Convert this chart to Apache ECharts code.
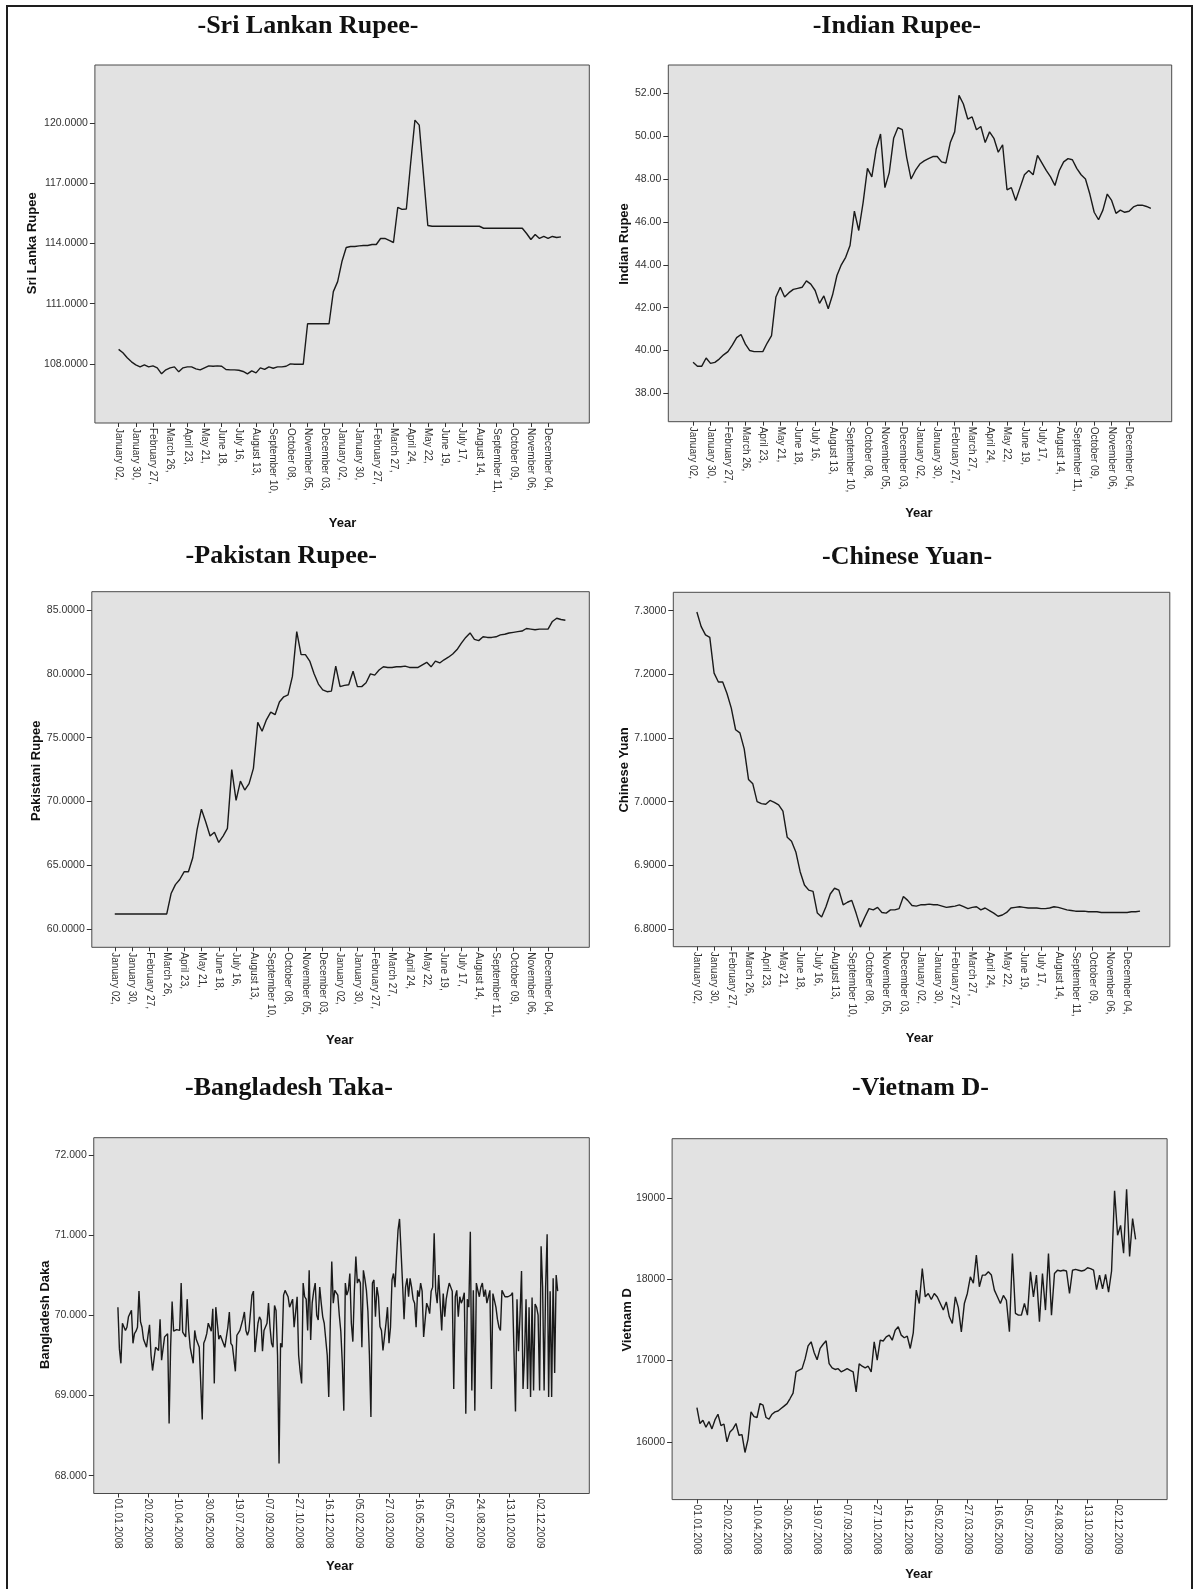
<!DOCTYPE html>
<html><head><meta charset="utf-8">
<script src="https://cdn.jsdelivr.net/npm/echarts@6/dist/echarts.min.js"></script>
<style>html,body{margin:0;padding:0;background:#fff}#c{width:1193px;height:1589px}</style>
</head><body><div id="c"></div>
<script>
// ---- tick labels ----
const tradeTickLabels = ['January 02,','January 30,','February 27,','March 26,','April 23,','May 21,','June 18,','July 16,','August 13,','September 10,','October 08,','November 05,','December 03,','January 02,','January 30,','February 27,','March 27,','April 24,','May 22,','June 19,','July 17,','August 14,','September 11,','October 09,','November 06,','December 04,'];
const dateTickLabels = ['01.01.2008','20.02.2008','10.04.2008','30.05.2008','19.07.2008','07.09.2008','27.10.2008','16.12.2008','05.02.2009','27.03.2009','16.05.2009','05.07.2009','24.08.2009','13.10.2009','02.12.2009'];

const sriLankaTicks = [108,111,114,117,120];
const indiaTicks = [38,40,42,44,46,48,50,52];
const pakistanTicks = [60,65,70,75,80,85];
const chinaTicks = [6.8,6.9,7.0,7.1,7.2,7.3];
const bangladeshTicks = [68,69,70,71,72];
const vietnamTicks = [16000,17000,18000,19000];

// ---- series values (weekly samples of trading days) ----
const sriLanka = [108.72,108.55,108.3,108.1,107.95,107.85,107.95,107.85,107.9,107.8,
107.5,107.7,107.8,107.85,107.6,107.8,107.85,107.85,107.75,107.7,
107.8,107.9,107.88,107.9,107.88,107.72,107.7,107.7,107.68,107.62,
107.5,107.65,107.55,107.8,107.72,107.85,107.78,107.85,107.85,107.88,
108.0,107.98,107.98,107.98,110.0,110.0,110.0,110.0,110.0,110.0,
111.6,112.1,113.1,113.8,113.85,113.85,113.88,113.9,113.9,113.95,
113.95,114.25,114.25,114.15,114.05,115.8,115.7,115.72,118.0,120.15,
119.9,117.4,114.9,114.86,114.86,114.86,114.86,114.86,114.86,114.86,
114.86,114.86,114.86,114.86,114.86,114.76,114.76,114.76,114.76,114.76,
114.76,114.76,114.76,114.76,114.76,114.5,114.2,114.45,114.25,114.35,
114.25,114.35,114.3,114.33];

const india = [39.45,39.27,39.27,39.65,39.4,39.45,39.6,39.8,39.95,40.25,
40.6,40.75,40.3,40.0,39.95,39.95,39.95,40.35,40.7,42.5,
42.95,42.5,42.7,42.85,42.9,42.95,43.25,43.1,42.8,42.2,
42.55,41.95,42.6,43.5,44.0,44.35,44.9,46.5,45.6,46.9,
48.5,48.1,49.4,50.1,47.6,48.3,49.9,50.4,50.3,49.0,
48.0,48.4,48.7,48.85,48.95,49.05,49.05,48.8,48.75,49.7,
50.2,51.9,51.5,50.8,50.9,50.3,50.45,49.7,50.2,49.9,
49.25,49.6,47.5,47.6,47.0,47.6,48.2,48.4,48.2,49.1,
48.75,48.4,48.1,47.7,48.4,48.8,48.95,48.9,48.5,48.2,
48.0,47.3,46.45,46.1,46.55,47.3,47.0,46.4,46.55,46.45,
46.5,46.7,46.78,46.78,46.72,46.63];

const pakistan = [61.2,61.2,61.2,61.2,61.2,61.2,61.2,61.2,61.2,61.2,
61.2,61.2,61.2,62.8,63.5,63.9,64.5,64.5,65.6,67.8,
69.4,68.4,67.3,67.6,66.8,67.3,67.9,72.5,70.1,71.6,
70.9,71.4,72.6,76.2,75.5,76.4,77.0,76.8,77.8,78.2,
78.35,79.8,83.3,81.5,81.5,81.0,80.0,79.2,78.75,78.6,
78.65,80.6,79.0,79.1,79.15,80.2,79.0,79.0,79.3,80.0,
79.9,80.3,80.55,80.5,80.5,80.55,80.55,80.6,80.5,80.5,
80.5,80.7,80.9,80.55,81.0,80.85,81.1,81.3,81.55,81.9,
82.4,82.85,83.2,82.7,82.6,82.9,82.85,82.85,82.9,83.05,
83.1,83.2,83.25,83.3,83.35,83.55,83.5,83.45,83.5,83.5,
83.5,84.1,84.35,84.25,84.2];

const china = [7.298,7.275,7.262,7.258,7.202,7.188,7.188,7.17,7.147,7.113,
7.108,7.083,7.035,7.028,7.0,6.997,6.996,7.002,6.999,6.995,
6.985,6.944,6.938,6.921,6.89,6.869,6.861,6.859,6.825,6.819,
6.835,6.855,6.864,6.861,6.838,6.842,6.845,6.825,6.803,6.818,
6.832,6.83,6.834,6.826,6.825,6.83,6.83,6.832,6.851,6.845,
6.837,6.836,6.838,6.838,6.839,6.838,6.838,6.836,6.834,6.835,
6.836,6.838,6.835,6.832,6.834,6.835,6.83,6.833,6.829,6.825,
6.82,6.822,6.826,6.833,6.834,6.835,6.834,6.833,6.833,6.833,
6.832,6.832,6.833,6.835,6.834,6.832,6.83,6.829,6.828,6.828,
6.828,6.827,6.827,6.827,6.826,6.826,6.826,6.826,6.826,6.826,
6.826,6.827,6.827,6.828];

// ---- Bangladesh: samples every 2.5 calendar days ----
const bangladesh = [
70.1,69.58,69.4,69.9,69.88,69.81,69.85,69.98,70.02,70.06,69.65,69.77,69.8,69.85,70.3,69.92,69.85,69.7,69.65,69.6,
69.75,69.88,69.5,69.31,69.3,69.6,69.6,69.56,69.95,69.44,69.42,69.73,69.72,69.77,68.65,69.6,70.17,69.8,69.8,69.82,
69.8,69.81,70.4,69.79,69.78,69.73,70.2,69.81,69.6,69.5,69.4,69.81,69.7,69.7,69.6,69.58,68.7,69.65,69.7,69.77,
69.9,69.85,69.8,70.08,69.15,70.1,70.1,69.7,69.75,69.7,69.7,69.6,69.6,69.85,70.04,69.65,69.62,69.62,69.3,69.75,
69.78,69.81,69.82,69.95,70.04,69.81,69.75,69.81,69.82,70.25,70.3,69.54,69.55,69.9,69.98,69.94,69.55,69.81,69.8,69.9,
70.15,69.85,69.65,69.6,70.12,70.06,69.5,68.15,69.65,69.6,70.25,70.31,70.31,70.23,70.1,70.15,70.2,69.85,69.85,70.23,
69.5,69.3,69.15,70.4,70.23,70.2,69.81,70.56,69.69,70.15,70.3,70.4,70.0,69.94,70.35,70.15,69.98,69.9,69.9,69.5,
68.98,69.9,70.67,70.15,70.31,70.3,70.25,70.0,69.8,69.4,68.81,70.4,70.25,70.31,70.52,69.9,69.67,70.3,70.73,70.4,
70.45,70.4,69.6,70.56,70.45,70.31,70.05,69.5,68.73,70.4,70.44,69.98,70.35,70.23,69.86,69.81,69.56,69.73,69.9,70.1,
69.65,69.85,70.44,70.52,70.35,70.73,71.06,71.2,71.22,70.4,69.95,70.35,70.46,70.23,70.46,70.35,70.2,70.15,69.85,70.31,
70.23,70.4,70.3,69.73,69.75,70.15,70.1,70.02,70.3,70.35,71.02,70.3,70.15,70.5,70.15,69.81,70.27,69.98,70.2,70.31,
70.4,70.35,70.3,69.08,70.23,70.31,69.98,70.23,70.15,70.2,70.28,68.77,70.2,70.1,71.04,69.06,70.31,68.81,70.4,70.31,
70.23,70.35,70.4,70.23,70.32,70.15,70.23,70.31,69.08,70.27,70.28,70.1,69.95,69.85,69.81,70.31,70.3,70.23,70.23,70.23,
70.25,70.25,70.28,70.3,68.8,70.2,69.55,70.0,70.55,69.08,69.5,70.2,69.08,70.1,68.98,70.22,69.06,70.14,70.1,70.0,
69.06,70.86,70.35,69.06,70.35,71.01,68.98,70.3,68.98,70.46,69.28,70.5,70.3];

// ---- Vietnam: samples every 5 calendar days ----
const vietnam = [16420,16226,16267,16180,16250,16160,16270,16340,16200,16220,
16000,16123,16160,16226,16082,16090,15870,16030,16369,16310,
16300,16472,16451,16300,16280,16340,16369,16380,16410,16440,
16470,16533,16600,16861,16881,16900,17020,17180,17230,17100,
17010,17150,17200,17242,16963,16910,16890,16900,16861,16880,
16900,16880,16860,16615,16960,16930,16910,16930,16861,17230,
17004,17250,17240,17290,17312,17250,17373,17414,17312,17280,
17300,17148,17340,17865,17701,18131,17783,17824,17750,17824,
17780,17700,17620,17720,17537,17455,17783,17650,17353,17700,
17824,18029,17950,18295,17906,18050,18050,18090,18050,17865,
17783,17701,17800,17740,17353,18315,17580,17558,17560,17701,
17558,18090,17783,18050,17476,18070,17620,18315,17558,18070,
18110,18100,18110,18100,17824,18110,18120,18110,18100,18110,
18140,18130,18110,17870,18050,17880,18060,17840,18100,19085,
18540,18660,18320,19105,18280,18745,18490];

// ---- layout ----
const panels = [
  {data: sriLanka, step: 5, tickStep: 20, labels: tradeTickLabels, xMin: -27.6, xMax: 548, yMin: 105.05, yMax: 122.9, yTicks: sriLankaTicks, dec: 4,
   grid: {left: 94.9, top: 65, width: 494.4, height: 358}, title: '-Sri Lankan Rupee-', tPos: [308, 26.7], yName: 'Sri Lanka Rupee', yPos: [32.5, 243.3], xPos: [342.5, 523.3]},
  {data: india, step: 5, tickStep: 20, labels: tradeTickLabels, xMin: -28.4, xMax: 548.9, yMin: 36.68, yMax: 53.32, yTicks: indiaTicks, dec: 2,
   grid: {left: 668.3, top: 65, width: 503.4, height: 356.7}, title: '-Indian Rupee-', tPos: [896.8, 26.7], yName: 'Indian Rupee', yPos: [624.6, 244], xPos: [918.9, 513.3]},
  {data: pakistan, step: 5, tickStep: 20, labels: tradeTickLabels, xMin: -26.5, xMax: 547.6, yMin: 58.59, yMax: 86.43, yTicks: pakistanTicks, dec: 4,
   grid: {left: 91.8, top: 591.7, width: 497.5, height: 355.6}, title: '-Pakistan Rupee-', tPos: [281.3, 556.7], yName: 'Pakistani Rupee', yPos: [36.4, 770.7], xPos: [339.8, 1040]},
  {data: china, step: 5, tickStep: 20, labels: tradeTickLabels, xMin: -27.4, xMax: 549.6, yMin: 6.7722, yMax: 7.3289, yTicks: chinaTicks, dec: 4,
   grid: {left: 673.3, top: 592.3, width: 496.5, height: 354.4}, title: '-Chinese Yuan-', tPos: [907.1, 557.5], yName: 'Chinese Yuan', yPos: [624.6, 770], xPos: [919.6, 1038.3]},
  {data: bangladesh, step: 2.5, tickStep: 50, labels: dateTickLabels, xMin: -40.1, xMax: 782.5, yMin: 67.777, yMax: 72.213, yTicks: bangladeshTicks, dec: 3,
   grid: {left: 93.75, top: 1137.7, width: 495.55, height: 355.8}, title: '-Bangladesh Taka-', tPos: [288.9, 1087.8], yName: 'Bangladesh Daka', yPos: [45.9, 1314.7], xPos: [339.8, 1566.7]},
  {data: vietnam, step: 5, tickStep: 50, labels: dateTickLabels, xMin: -41.3, xMax: 782.4, yMin: 15291, yMax: 19726, yTicks: vietnamTicks, dec: 0,
   grid: {left: 672.1, top: 1138.7, width: 495, height: 360.9}, title: '-Vietnam D-', tPos: [920.4, 1087.8], yName: 'Vietnam D', yPos: [627.2, 1319.9], xPos: [918.9, 1574.2]}
];

const sans = '"Liberation Sans", Arial, sans-serif';
const serif = '"Liberation Serif", "Times New Roman", serif';
const grids = [], xAxes = [], yAxes = [], series = [], graphics = [];

graphics.push({type: 'rect', silent: true, shape: {x: 7, y: 6, width: 1185, height: 1600},
  style: {fill: 'none', stroke: '#1e1e1e', lineWidth: 2}});

function txt(text, x, y, font, rot) {
  return {type: 'text', x: x, y: y, rotation: rot || 0, silent: true,
    style: {text: text, font: font, fill: '#111', align: 'center', verticalAlign: 'middle', textAlign: 'center', textVerticalAlign: 'middle'}};
}

panels.forEach((p, i) => {
  grids.push(Object.assign({show: true, backgroundColor: '#e2e2e2', borderColor: '#4a4a4a', borderWidth: 1}, p.grid));
  const xt = p.labels.map((_, k) => k * p.tickStep);
  xAxes.push({type: 'value', gridIndex: i, min: p.xMin, max: p.xMax,
    axisLine: {show: false, onZero: false}, splitLine: {show: false},
    axisTick: {show: true, customValues: xt, length: 4, lineStyle: {color: '#333', width: 1}},
    axisLabel: {customValues: xt, rotate: -90, margin: 5, fontSize: 10, fontFamily: sans, color: '#333',
      formatter: v => p.labels[Math.round(v / p.tickStep)] || ''}});
  yAxes.push({type: 'value', gridIndex: i, min: p.yMin, max: p.yMax,
    axisLine: {show: false, onZero: false}, splitLine: {show: false},
    axisTick: {show: true, customValues: p.yTicks, length: 5, lineStyle: {color: '#333', width: 1}},
    axisLabel: {customValues: p.yTicks, margin: 7, fontSize: 10.5, fontFamily: sans, color: '#333',
      formatter: v => Number(v).toFixed(p.dec)}});
  series.push({type: 'line', xAxisIndex: i, yAxisIndex: i, showSymbol: false, symbol: 'none',
    animation: false, silent: true, lineStyle: {color: '#1a1a1a', width: 1.4},
    data: p.data.map((v, k) => [k * p.step, v])});
  graphics.push(txt(p.title, p.tPos[0], p.tPos[1], 'bold 26px ' + serif));
  graphics.push(txt(p.yName, p.yPos[0], p.yPos[1], 'bold 13px ' + sans, Math.PI / 2));
  graphics.push(txt('Year', p.xPos[0], p.xPos[1], 'bold 13px ' + sans));
});

const chart = echarts.init(document.getElementById('c'), null, {renderer: 'canvas'});
chart.setOption({animation: false, backgroundColor: '#ffffff', grid: grids, xAxis: xAxes, yAxis: yAxes, series: series, graphic: graphics});
</script></body></html>
